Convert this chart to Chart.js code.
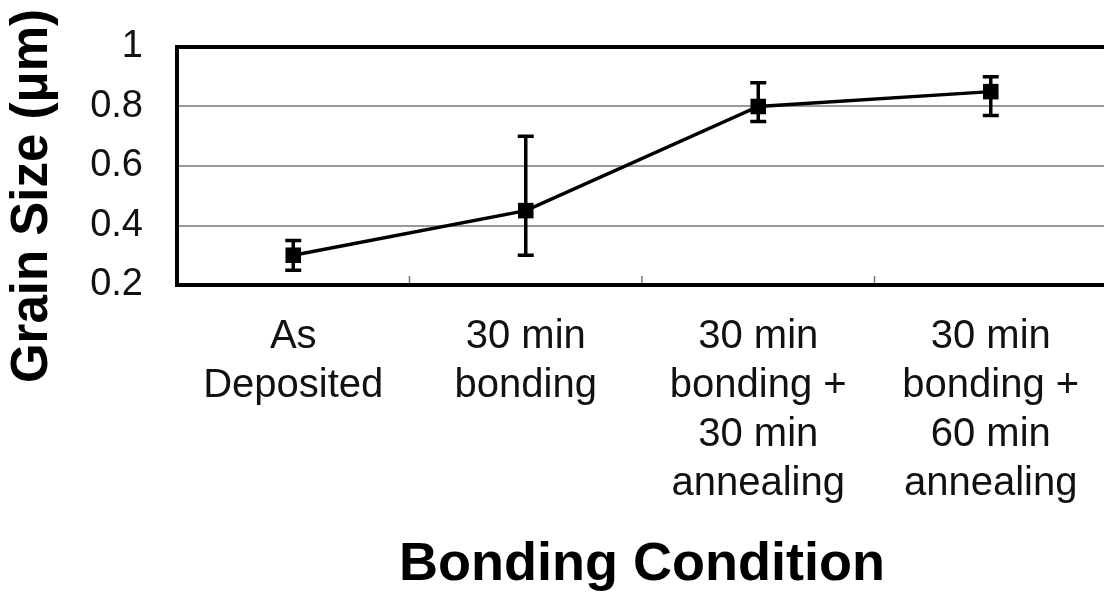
<!DOCTYPE html>
<html>
<head>
<meta charset="utf-8">
<script src="https://cdn.jsdelivr.net/npm/chart.js@4/dist/chart.umd.min.js"></script>
<style>
  html, body { margin: 0; padding: 0; background: #fff; overflow: hidden; }
</style>
</head>
<body>
<!-- a little wider than the window: the right edge of the frame falls just outside, as in the source figure -->
<canvas id="grainChart" width="1110" height="594"></canvas>
<script>
// categories on the x axis (multi-line labels)
const conditions = [
    ['As', 'Deposited'],
    ['30 min', 'bonding'],
    ['30 min', 'bonding +', '30 min', 'annealing'],
    ['30 min', 'bonding +', '60 min', 'annealing']
];

// mean grain size and error bar ends (um)
const grainSize = [0.30, 0.45, 0.80, 0.85];
const errorHigh = [0.35, 0.70, 0.88, 0.90];
const errorLow = [0.25, 0.30, 0.75, 0.77];

// y tick values
const yTicks = [0.2, 0.4, 0.6, 0.8, 1];

const FONT = "'Liberation Sans', Arial, sans-serif";

// error bars, frame, inner x ticks and the y title
const decorations = {
    id: 'decorations',
    afterDatasetsDraw(chart) {
        const ctx = chart.ctx;
        const x = chart.scales.x;
        const y = chart.scales.y;
        ctx.save();
        ctx.strokeStyle = '#000';
        ctx.lineWidth = 3.5;
        for (let i = 0; i < grainSize.length; i++) {
            const px = x.getPixelForValue(i);
            const top = y.getPixelForValue(errorHigh[i]);
            const bot = y.getPixelForValue(errorLow[i]);
            ctx.beginPath();
            ctx.moveTo(px, top);
            ctx.lineTo(px, bot);
            ctx.moveTo(px - 8, top);
            ctx.lineTo(px + 8, top);
            ctx.moveTo(px - 8, bot);
            ctx.lineTo(px + 8, bot);
            ctx.stroke();
        }
        ctx.restore();
    },
    afterDraw(chart) {
        const ctx = chart.ctx;
        const area = chart.chartArea;
        const x = chart.scales.x;
        ctx.save();
        // small ticks between categories, pointing up from the bottom
        ctx.strokeStyle = '#777';
        ctx.lineWidth = 1.5;
        for (let i = 0; i < conditions.length - 1; i++) {
            const bx = (x.getPixelForValue(i) + x.getPixelForValue(i + 1)) / 2;
            ctx.beginPath();
            ctx.moveTo(bx, area.bottom);
            ctx.lineTo(bx, area.bottom - 9);
            ctx.stroke();
        }
        // frame
        ctx.strokeStyle = '#000';
        ctx.lineWidth = 4;
        ctx.strokeRect(area.left, area.top, area.right - area.left, area.bottom - area.top);
        // y axis title
        ctx.translate(33, 196);
        ctx.rotate(-Math.PI / 2);
        ctx.fillStyle = '#000';
        ctx.textAlign = 'center';
        ctx.textBaseline = 'middle';
        ctx.font = `bold 51px ${FONT}`;
        ctx.fillText('Grain Size (\u03bcm)', 0, 0);
        ctx.restore();
    }
};

const ctx = document.getElementById('grainChart').getContext('2d');
const grainChart = new Chart(ctx, {
    type: 'line',
    data: {
        labels: conditions,
        datasets: [{
            label: 'Grain Size',
            data: grainSize,
            borderColor: '#000',
            backgroundColor: '#000',
            borderWidth: 3.5,
            pointStyle: 'rect',
            pointRadius: 11,
            pointBorderWidth: 0,
            tension: 0
        }]
    },
    options: {
        responsive: false,
        animation: false,
        layout: {
            autoPadding: false,
            padding: { top: 47, right: 3, left: 0, bottom: 0 }
        },
        plugins: {
            legend: { display: false },
            tooltip: { enabled: false }
        },
        scales: {
            x: {
                offset: true,
                grid: { display: false },
                border: { display: false },
                ticks: {
                    color: '#111',
                    padding: 19,
                    maxRotation: 0,
                    autoSkip: false,
                    font: { family: FONT, size: 40, lineHeight: 1.23 }
                },
                title: {
                    display: true,
                    text: 'Bonding Condition',
                    color: '#000',
                    padding: { top: 0, bottom: 2 },
                    font: { family: FONT, size: 54, weight: 'bold', lineHeight: 1.0 }
                },
                afterFit(scale) {
                    scale.height = 309;
                    scale.paddingLeft = 0;
                    scale.paddingRight = 0;
                }
            },
            y: {
                min: yTicks[0],
                max: yTicks[yTicks.length - 1],
                afterBuildTicks(scale) {
                    scale.ticks = yTicks.map(v => ({ value: v }));
                },
                grid: {
                    color: '#999',
                    lineWidth: 2,
                    drawTicks: false
                },
                border: { display: false },
                ticks: {
                    color: '#111',
                    padding: 34,
                    font: { family: FONT, size: 38 },
                    callback: v => String(Number(v.toFixed(1)))
                },
                afterFit(scale) {
                    scale.width = 177;
                    scale.paddingTop = 0;
                    scale.paddingBottom = 0;
                }
            }
        }
    },
    plugins: [decorations]
});
</script>
</body>
</html>
